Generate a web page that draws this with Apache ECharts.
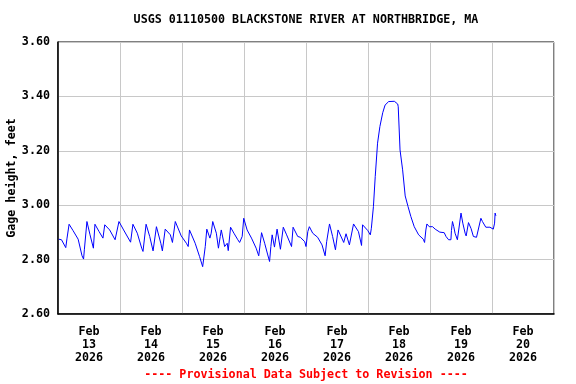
<!DOCTYPE html>
<html>
<head>
<meta charset="utf-8">
<script src="https://cdn.jsdelivr.net/npm/echarts@6/dist/echarts.min.js"></script>
<style>
html,body{margin:0;padding:0;background:#fff;}
#chart{width:576px;height:384px;}
</style>
</head>
<body>
<div id="chart"></div>
<script>
const titleText = 'USGS 01110500 BLACKSTONE RIVER AT NORTHBRIDGE, MA';
const footerText = '---- Provisional Data Subject to Revision ----';
const yAxisName = 'Gage height, feet';
const dayMonths = ['Feb','Feb','Feb','Feb','Feb','Feb','Feb','Feb'];
const dayNumbers = ['13','14','15','16','17','18','19','20'];
const dayYears = ['2026','2026','2026','2026','2026','2026','2026','2026'];
// hours since Feb 13 2026 00:00
const hours = [0.3,1.35,3.0,3.5,4.3,5.8,7.8,9.3,9.9,10.2,11.2,12.4,13.7,14.3,15.9,17.4,17.8,18.1,20.0,22.1,22.8,23.6,25.4,28.1,29.0,30.7,32.4,32.9,34.1,35.5,36.8,38.1,39.8,40.4,41.5,43.5,44.3,45.4,47.7,49.7,50.4,50.9,53.1,54.8,56.0,57.0,57.6,58.8,59.3,59.9,61.3,62.1,62.8,63.2,64.5,64.9,65.5,65.9,66.8,68.1,69.6,70.3,70.9,71.3,71.9,73.2,74.9,76.7,77.7,78.3,78.8,80.0,81.2,81.9,82.4,82.9,83.8,84.8,86.1,87.2,88.5,90.4,91.0,92.8,93.8,95.5,96.0,96.7,97.3,98.6,100.5,102.2,103.4,104.0,105.1,106.3,107.4,108.4,110.6,111.5,112.8,114.4,116.3,117.5,117.9,119.9,120.9,121.3,122.1,122.8,123.7,124.6,125.7,126.6,128.0,130.2,131.5,131.7,132.4,133.4,134.4,135.5,136.6,137.9,139.6,141.4,141.9,142.4,142.8,143.7,145.0,145.6,146.0,147.8,149.5,150.2,151.2,152.1,152.3,152.7,153.2,153.7,154.6,156.0,156.7,157.6,158.0,158.9,159.9,160.8,162.0,163.7,164.3,165.6,167.2,167.6,168.5,169.0,169.2,169.5];
const gage = [2.875,2.873,2.844,2.879,2.930,2.907,2.875,2.814,2.802,2.836,2.940,2.891,2.842,2.930,2.903,2.879,2.881,2.928,2.909,2.873,2.873,2.940,2.909,2.864,2.930,2.897,2.842,2.830,2.930,2.885,2.832,2.921,2.860,2.832,2.912,2.891,2.863,2.940,2.887,2.860,2.848,2.909,2.860,2.811,2.774,2.848,2.912,2.879,2.897,2.940,2.897,2.842,2.885,2.909,2.848,2.842,2.860,2.833,2.919,2.897,2.873,2.863,2.866,2.885,2.952,2.909,2.879,2.842,2.814,2.860,2.899,2.860,2.817,2.793,2.848,2.891,2.846,2.912,2.838,2.919,2.891,2.848,2.919,2.885,2.882,2.866,2.848,2.903,2.921,2.897,2.882,2.854,2.814,2.866,2.931,2.885,2.836,2.909,2.863,2.895,2.854,2.931,2.903,2.852,2.928,2.907,2.891,2.915,2.995,3.105,3.228,3.289,3.340,3.368,3.381,3.382,3.372,3.362,3.203,3.130,3.034,2.995,2.958,2.921,2.891,2.875,2.863,2.909,2.931,2.921,2.921,2.919,2.912,2.901,2.899,2.885,2.873,2.873,2.907,2.940,2.921,2.897,2.873,2.971,2.934,2.897,2.887,2.936,2.914,2.885,2.882,2.952,2.940,2.919,2.919,2.912,2.912,2.934,2.971,2.961];

const FONT = '"DejaVu Sans Mono", monospace';
const chart = echarts.init(document.getElementById('chart'), null, {renderer:'canvas'});
const dayLabels = dayMonths.map((m,i)=> m + '\n' + dayNumbers[i] + '\n' + dayYears[i]);
const seriesData = hours.map((h,i)=>[h, gage[i]]);

chart.setOption({
  animation:false,
  backgroundColor:'#fff',
  grid:{left:58,right:22,top:42,bottom:70,outerBoundsMode:'none',containLabel:false,
        show:true,borderColor:'#000',borderWidth:1,backgroundColor:'transparent'},
  graphic:[
    {type:'text',style:{x:306,y:20,text:titleText,font:'bold 11.7px '+FONT,fill:'#000',textAlign:'center',textVerticalAlign:'middle'}},
    {type:'text',style:{x:306,y:375,text:footerText,font:'bold 11.7px '+FONT,fill:'#ff0000',textAlign:'center',textVerticalAlign:'middle'}}
  ],
  xAxis:[
    {type:'value',min:0,max:192,interval:24,
     axisLine:{show:true,lineStyle:{color:'#000',width:1.5}},
     axisTick:{show:false},axisLabel:{show:false},
     splitLine:{show:true,lineStyle:{color:'#c8c8c8',width:1}}},
    {type:'category',data:dayLabels,position:'bottom',offset:0,boundaryGap:true,
     axisLine:{show:false},axisTick:{show:false},splitLine:{show:false},
     axisLabel:{show:true,interval:0,margin:11,color:'#000',fontFamily:FONT,fontWeight:'bold',fontSize:11.7,lineHeight:13}}
  ],
  yAxis:{type:'value',min:2.6,max:3.6,interval:0.2,
    name:yAxisName,nameLocation:'middle',nameGap:40,nameMoveOverlap:false,
    nameTextStyle:{color:'#000',fontFamily:FONT,fontWeight:'bold',fontSize:11.7},
    axisLine:{show:true,lineStyle:{color:'#000',width:1.5}},
    axisTick:{show:false},
    axisLabel:{margin:8,color:'#000',fontFamily:FONT,fontWeight:'bold',fontSize:11.7,formatter:v=>v.toFixed(2)},
    splitLine:{show:true,lineStyle:{color:'#c8c8c8',width:1}}},
  series:[{type:'line',xAxisIndex:0,data:seriesData,showSymbol:false,symbol:'none',
    lineStyle:{color:'#0000ff',width:1},itemStyle:{color:'#0000ff'}}]
});
</script>
</body>
</html>
